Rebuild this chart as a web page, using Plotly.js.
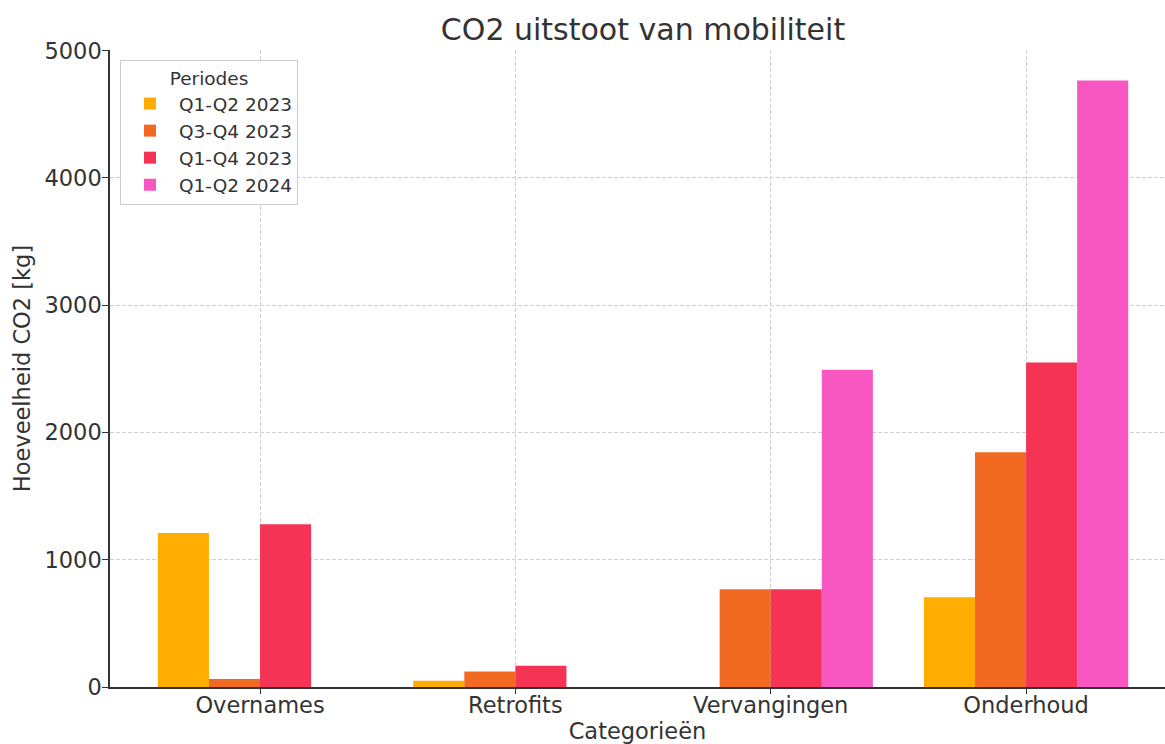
<!DOCTYPE html>
<html>
<head>
<meta charset="utf-8">
<script src="https://cdn.plot.ly/plotly-3.0.1.min.js"></script>
<style>html,body{margin:0;padding:0;background:#fff;overflow:hidden}</style>
</head>
<body>
<div id="chart" style="width:1165px;height:744px"></div>
<script>
const categories = ["Overnames", "Retrofits", "Vervangingen", "Onderhoud"];
const seriesNames = ["Q1-Q2 2023", "Q3-Q4 2023", "Q1-Q4 2023", "Q1-Q2 2024"];
const q1q2_2023 = [1210, 49, 0, 705];
const q3q4_2023 = [63, 122, 768, 1845];
const q1q4_2023 = [1279, 167, 768, 2550];
const q1q2_2024 = [0, 0, 2492, 4766];
const seriesValues = [q1q2_2023, q3q4_2023, q1q4_2023, q1q2_2024];
const colors = ["#FFAD00", "#F26A21", "#F53355", "#F857C1"];

const font = "DejaVu Sans, sans-serif";
const traces = seriesNames.map((name, i) => ({
  type: "bar",
  name: name,
  legendgroup: "g" + i,
  x: categories,
  y: seriesValues[i],
  marker: {color: colors[i], line: {width: 0}},
  hoverinfo: "x+y+name"
}));

const layout = {
  width: 1165,
  height: 744,
  paper_bgcolor: "#fff",
  plot_bgcolor: "#fff",
  font: {family: font, color: "#333"},
  margin: {l: 110, r: 0, t: 50, b: 57},
  barmode: "group",
  bargap: 0.2,
  bargroupgap: 0,
  title: {
    text: "CO2 uitstoot van mobiliteit",
    font: {family: font, size: 30, color: "#333"},
    x: 643 / 1165, xref: "container", xanchor: "center",
    y: 1 - 29 / 744, yref: "container", yanchor: "middle"
  },
  xaxis: {
    range: [-0.5875, 3.544],
    showgrid: true,
    gridcolor: "#cfcfcf",
    griddash: "4px,2px",
    gridwidth: 1,
    showline: true,
    linecolor: "#333",
    linewidth: 1.5,
    ticks: "outside",
    ticklen: 5,
    tickcolor: "#333",
    ticklabelstandoff: -8,
    tickfont: {family: font, size: 22.5, color: "#333"},
    title: {text: "Categorieën", font: {family: font, size: 22.5, color: "#333"}, standoff: 10},
    zeroline: false,
    fixedrange: true
  },
  yaxis: {
    range: [0, 5005],
    tickvals: [0, 1000, 2000, 3000, 4000, 5000],
    showgrid: true,
    gridcolor: "#cfcfcf",
    griddash: "4px,2px",
    gridwidth: 1,
    showline: true,
    linecolor: "#333",
    linewidth: 1.5,
    ticks: "outside",
    ticklen: 6,
    tickcolor: "#333",
    ticklabelstandoff: -4,
    tickfont: {family: font, size: 22.5, color: "#333"},
    title: {text: "Hoeveelheid CO2 [kg]", font: {family: font, size: 22.5, color: "#333"}, standoff: 8},
    zeroline: false,
    fixedrange: true
  },
  legend: {
    x: 10 / 1055, xanchor: "left",
    y: 1 - 10 / 637, yanchor: "top",
    bgcolor: "rgba(255,255,255,0.9)",
    bordercolor: "#cccccc",
    borderwidth: 1,
    font: {family: font, size: 18.5, color: "#333"},
    title: {text: "Periodes", side: "top center", font: {family: font, size: 18.5, color: "#333"}},
    traceorder: "normal",
    tracegroupgap: 6,
    itemwidth: 48
  },
  showlegend: true
};

Plotly.newPlot("chart", traces, layout, {displayModeBar: false});
</script>
</body>
</html>
